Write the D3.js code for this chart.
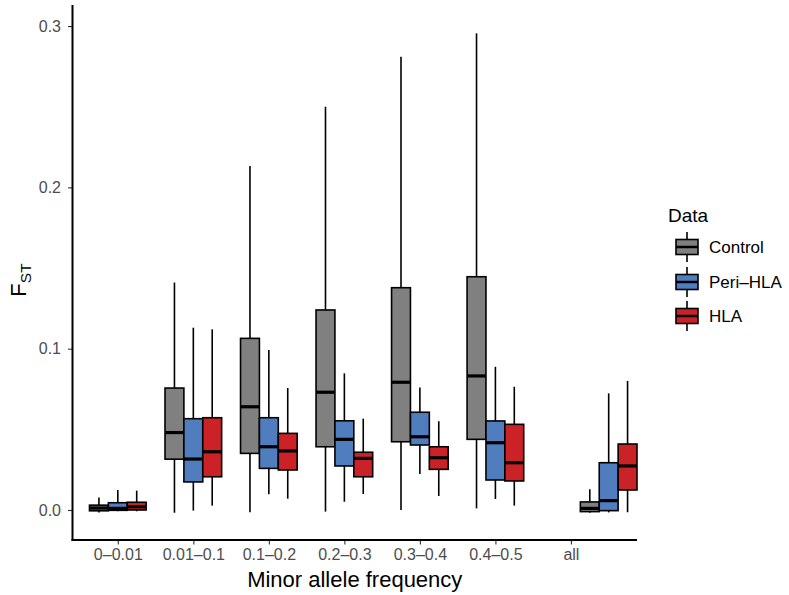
<!DOCTYPE html>
<html>
<head>
<meta charset="utf-8">
<script src="https://cdn.jsdelivr.net/npm/d3@7"></script>
<style>
  html, body { margin: 0; padding: 0; background: #fff; }
  text { font-family: "Liberation Sans", Arial, Helvetica, sans-serif; }
</style>
</head>
<body>
<svg id="chart" width="789" height="595"></svg>
<script>
// ---------- data ----------
const categories = ["0\u20130.01", "0.01\u20130.1", "0.1\u20130.2", "0.2\u20130.3", "0.3\u20130.4", "0.4\u20130.5", "all"];
const seriesNames = ["Control", "Peri\u2013HLA", "HLA"];
const seriesColors = ["#808080", "#4F7DBE", "#CB2228"];
const yTicks = [0.0, 0.1, 0.2, 0.3];

// each row: [lower whisker, Q1, median, Q3, upper whisker]
const controlStats = [
  [-0.0015, -0.0005, 0.0012, 0.0030, 0.0078],
  [-0.0017, 0.0315, 0.0480, 0.0756, 0.1410],
  [-0.0014, 0.0351, 0.0640, 0.1064, 0.2132],
  [-0.0010, 0.0392, 0.0730, 0.1240, 0.2500],
  [ 0.0000, 0.0423, 0.0792, 0.1378, 0.2810],
  [ 0.0010, 0.0438, 0.0831, 0.1446, 0.2955],
  [-0.0017, -0.0010, 0.0010, 0.0050, 0.0128]
];
const periStats = [
  [-0.0008, -0.0002, 0.0010, 0.0045, 0.0124],
  [-0.0004, 0.0174, 0.0316, 0.0566, 0.1130],
  [ 0.0097, 0.0258, 0.0392, 0.0572, 0.0992],
  [ 0.0051, 0.0273, 0.0438, 0.0553, 0.0847],
  [ 0.0223, 0.0403, 0.0454, 0.0606, 0.0760],
  [ 0.0068, 0.0186, 0.0417, 0.0552, 0.0888],
  [-0.0015, -0.0004, 0.0058, 0.0293, 0.0723]
];
const hlaStats = [
  [-0.0008, 0.0000, 0.0020, 0.0048, 0.0120],
  [ 0.0027, 0.0206, 0.0361, 0.0572, 0.1120],
  [ 0.0070, 0.0248, 0.0366, 0.0475, 0.0756],
  [ 0.0099, 0.0206, 0.0320, 0.0358, 0.0566],
  [ 0.0087, 0.0252, 0.0324, 0.0392, 0.0550],
  [ 0.0027, 0.0180, 0.0293, 0.0531, 0.0764],
  [-0.0014, 0.0124, 0.0273, 0.0409, 0.0800]
];
const allStats = [controlStats, periStats, hlaStats];

// ---------- layout ----------
const svg = d3.select("#chart");
const panel = { left: 72.5, right: 637, top: 8, bottom: 540 };
const dodgeWidth = 0.75;
const boxFrac = 0.25;          // box width in category units
const lastGroupShift = 0.5;    // the "all" boxes sit half a step right of their tick

const x = d3.scaleLinear().domain([0.4, 7.875]).range([panel.left, panel.right]);
const y = d3.scaleLinear().domain([-0.0186, 0.3112]).range([panel.bottom, panel.top]);

function groupCenter(i) {
  return (i + 1) + (i === categories.length - 1 ? lastGroupShift : 0);
}

// ---------- boxes ----------
const boxes = [];
allStats.forEach((stats, s) => {
  stats.forEach((v, i) => {
    const cx = groupCenter(i) - dodgeWidth / 2 + boxFrac * (s + 0.5);
    boxes.push({ s, i, cx, lo: v[0], q1: v[1], med: v[2], q3: v[3], hi: v[4] });
  });
});

const g = svg.append("g");
const bw = x(boxFrac) - x(0);

g.selectAll("line.whU").data(boxes).enter().append("line")
  .attr("x1", d => x(d.cx)).attr("x2", d => x(d.cx))
  .attr("y1", d => y(d.q3)).attr("y2", d => y(d.hi))
  .attr("stroke", "#000").attr("stroke-width", 1.6);
g.selectAll("line.whL").data(boxes).enter().append("line")
  .attr("x1", d => x(d.cx)).attr("x2", d => x(d.cx))
  .attr("y1", d => y(d.q1)).attr("y2", d => y(d.lo))
  .attr("stroke", "#000").attr("stroke-width", 1.6);
g.selectAll("rect.box").data(boxes).enter().append("rect")
  .attr("x", d => x(d.cx) - bw / 2)
  .attr("width", bw)
  .attr("y", d => y(d.q3))
  .attr("height", d => Math.max(0.5, y(d.q1) - y(d.q3)))
  .attr("fill", d => seriesColors[d.s])
  .attr("stroke", "#000").attr("stroke-width", 1.6);
g.selectAll("line.med").data(boxes).enter().append("line")
  .attr("x1", d => x(d.cx) - bw / 2).attr("x2", d => x(d.cx) + bw / 2)
  .attr("y1", d => y(d.med)).attr("y2", d => y(d.med))
  .attr("stroke", "#000").attr("stroke-width", 3.2);

// ---------- axes ----------
const yAxis = d3.axisLeft(y).tickValues(yTicks).tickFormat(d3.format(".1f"))
  .tickSize(4.5).tickSizeOuter(0).tickPadding(7);
const yg = svg.append("g").attr("transform", `translate(${panel.left},0)`).call(yAxis);
yg.select(".domain").remove();
yg.selectAll(".tick line").attr("stroke", "#333").attr("stroke-width", 1.1);
yg.selectAll(".tick text").attr("fill", "#4d4d4d").style("font-size", "16px");

const xAxis = d3.axisBottom(x).tickValues(d3.range(1, categories.length + 1))
  .tickFormat(d => categories[d - 1]).tickSize(4.5).tickSizeOuter(0).tickPadding(4);
const xg = svg.append("g").attr("transform", `translate(0,${panel.bottom})`).call(xAxis);
xg.select(".domain").remove();
xg.selectAll(".tick line").attr("stroke", "#333").attr("stroke-width", 1.1);
xg.selectAll(".tick text").attr("fill", "#4d4d4d").style("font-size", "16px");

svg.append("line").attr("x1", panel.left).attr("x2", panel.left)
  .attr("y1", panel.top - 3).attr("y2", panel.bottom + 1)
  .attr("stroke", "#000").attr("stroke-width", 2);
svg.append("line").attr("x1", panel.left - 1).attr("x2", panel.right)
  .attr("y1", panel.bottom).attr("y2", panel.bottom)
  .attr("stroke", "#000").attr("stroke-width", 2);

// axis titles
svg.append("text").attr("x", (panel.left + panel.right) / 2).attr("y", 587)
  .attr("text-anchor", "middle").style("font-size", "22px").attr("fill", "#000")
  .text("Minor allele frequency");

const yt = svg.append("text")
  .attr("transform", `translate(26,${(panel.top + panel.bottom) / 2 + 6}) rotate(-90)`)
  .attr("text-anchor", "middle").style("font-size", "22px").attr("fill", "#000");
yt.append("tspan").text("F");
yt.append("tspan").attr("dy", 5).style("font-size", "15.5px").text("ST");

// ---------- legend ----------
const lg = svg.append("g");
lg.append("text").attr("x", 668).attr("y", 222).style("font-size", "19px").attr("fill", "#000").text("Data");
const keyY = [247, 282, 316];
seriesNames.forEach((name, s) => {
  const cy = keyY[s];
  lg.append("line").attr("x1", 687).attr("x2", 687).attr("y1", cy - 15).attr("y2", cy + 15)
    .attr("stroke", "#000").attr("stroke-width", 1.6);
  lg.append("rect").attr("x", 676).attr("y", cy - 7.5).attr("width", 22).attr("height", 15)
    .attr("fill", seriesColors[s]).attr("stroke", "#000").attr("stroke-width", 1.6);
  lg.append("line").attr("x1", 676).attr("x2", 698).attr("y1", cy).attr("y2", cy)
    .attr("stroke", "#000").attr("stroke-width", 2.5);
  lg.append("text").attr("x", 709).attr("y", cy + 6).style("font-size", "17px").attr("fill", "#000").text(name);
});
</script>
</body>
</html>
